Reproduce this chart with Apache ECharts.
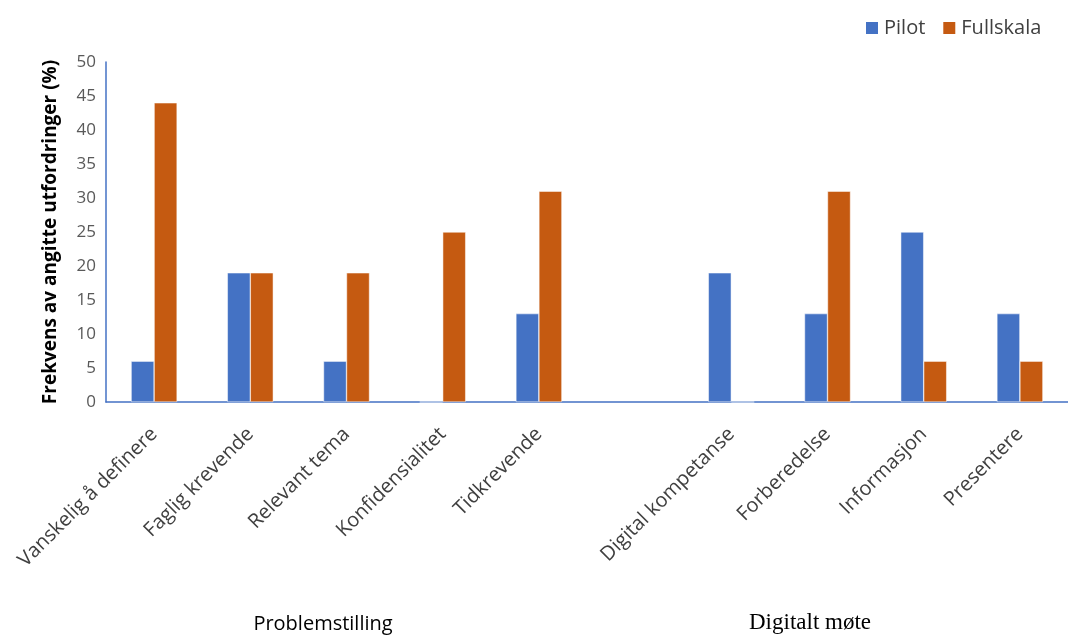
<!DOCTYPE html>
<html>
<head>
<meta charset="utf-8">
<script src="https://cdn.jsdelivr.net/npm/echarts@6/dist/echarts.min.js"></script>
<style>
html,body{margin:0;padding:0;background:#fff;}
#chart{width:1068px;height:636px;}
</style>
</head>
<body>
<div id="chart"></div>
<script>
var categories = ['Vanskelig å definere','Faglig krevende','Relevant tema','Konfidensialitet','Tidkrevende','','Digital kompetanse','Forberedelse','Informasjon','Presentere'];
var pilot = [6, 19, 6, 0, 13, null, 19, 13, 25, 13];
var fullskala = [44, 19, 19, 25, 31, null, 0, 31, 6, 6];
var yTicks = [0, 5, 10, 15, 20, 25, 30, 35, 40, 45, 50];
var groupLabels = ['Problemstilling', 'Digitalt møte'];

var sans = '"Open Sans", "Noto Sans", sans-serif';
var chart = echarts.init(document.getElementById('chart'));
chart.setOption({
  animation: false,
  backgroundColor: '#ffffff',
  legend: {
    data: ['Pilot', 'Fullskala'],
    left: 859, top: 13,
    itemWidth: 14, itemHeight: 14, itemGap: 16,
    icon: 'rect',
    textStyle: { fontFamily: sans, fontSize: 20, color: '#404040' }
  },
  grid: { left: 106, right: -12, top: 62, bottom: 234 },
  xAxis: {
    type: 'category',
    data: categories,
    axisLine: { lineStyle: { color: '#4472C4', width: 1.5 } },
    axisTick: { show: false },
    axisLabel: {
      interval: 0, rotate: 45, margin: 29,
      fontFamily: sans, fontSize: 20, color: '#404040'
    }
  },
  yAxis: {
    type: 'value',
    min: yTicks[0], max: yTicks[yTicks.length - 1], interval: 5,
    name: 'Frekvens av angitte utfordringer (%)',
    nameLocation: 'middle', nameGap: 46, nameRotate: 90,
    nameTextStyle: { fontFamily: sans, fontSize: 19, fontWeight: 'bold', color: '#000' },
    axisLine: { show: true, lineStyle: { color: '#4472C4', width: 1.5 } },
    axisTick: { show: false },
    splitLine: { show: false },
    axisLabel: { margin: 10, fontFamily: sans, fontSize: 17, color: '#595959' }
  },
  graphic: [
    { type: 'text', x: 323, y: 624, style: { text: groupLabels[0], font: '20px ' + sans, fill: '#000', textAlign: 'center', textVerticalAlign: 'middle' } },
    { type: 'text', x: 810, y: 623, style: { text: groupLabels[1], font: '23px "Liberation Serif", serif', fill: '#000', textAlign: 'center', textVerticalAlign: 'middle' } }
  ],
  series: [
    { name: 'Pilot', type: 'bar', data: pilot, barWidth: 23, barGap: '0%',
      itemStyle: { color: '#4472C4', borderColor: '#ffffff', borderWidth: 0.5 } },
    { name: 'Fullskala', type: 'bar', data: fullskala, barWidth: 23, barGap: '0%',
      itemStyle: { color: '#C55A11', borderColor: '#ffffff', borderWidth: 0.5 } }
  ]
});
</script>
</body>
</html>
